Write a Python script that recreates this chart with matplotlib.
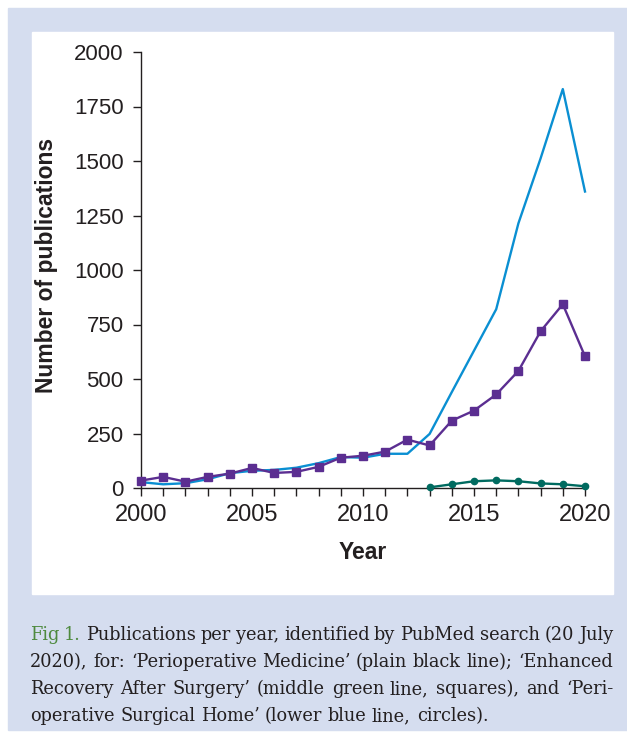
import numpy as np
import matplotlib.pyplot as plt
import matplotlib.patches as pat
from matplotlib.ticker import MultipleLocator

# valores
years = list(range(2000, 2021))
periop = [27, 17, 22, 40, 68, 79, 83, 93, 114, 142, 139, 157, 157, 248, 440, 630, 820, 1214, 1512, 1830, 1360]
eras = [34, 51, 29, 51, 66, 92, 69, 74, 97, 139, 148, 167, 222, 195, 309, 355, 429, 537, 719, 843, 604]
posh_years = list(range(2013, 2021))
posh = [3, 17, 31, 35, 31, 21, 17, 8]

caption = [
    "Fig 1. Publications per year, identified by PubMed search (20 July",
    "2020), for: \u2018Perioperative Medicine\u2019 (plain black line); \u2018Enhanced",
    "Recovery After Surgery\u2019 (middle green line, squares), and \u2018Peri-",
    "operative Surgical Home\u2019 (lower blue line, circles).",
]

W, H = 627, 738
BLUE_BG = "#d5ddef"


def fx(x):
    return x / W


def fy(y):
    return 1 - y / H


fig = plt.figure(figsize=(W / 100, H / 100), dpi=100)
fig.patch.set_facecolor("white")

# caja azul de fondo y panel blanco
fig.patches.append(pat.Rectangle((fx(8), fy(730)), fx(627) - fx(8), fy(8) - fy(730),
                                 transform=fig.transFigure, color=BLUE_BG, zorder=-10))
fig.patches.append(pat.Rectangle((fx(32), fy(594)), fx(613) - fx(32), fy(32) - fy(594),
                                 transform=fig.transFigure, color="white", zorder=-9))

ax = fig.add_axes([fx(141), fy(488), fx(585) - fx(141), fy(52) - fy(488)])
ax.set_facecolor("none")

ax.plot(years, periop, color="#0a8fd2", lw=1.7, clip_on=False, zorder=3)
ax.plot(years, eras, color="#5b2e91", lw=1.7, marker="s", ms=6, clip_on=False, zorder=4)
ax.plot(posh_years, posh, color="#006b60", lw=1.7, marker="o", ms=4.5, clip_on=False, zorder=5)

ax.set_xlim(2000, 2020)
ax.set_ylim(0, 2000)
ax.set_xticks(range(2000, 2021, 5))
ax.xaxis.set_minor_locator(MultipleLocator(1))
ax.set_yticks(range(0, 2001, 250))

ax.spines["top"].set_visible(False)
ax.spines["right"].set_visible(False)
for s in ["left", "bottom"]:
    ax.spines[s].set_linewidth(1.0)
    ax.spines[s].set_color("#231f20")

ax.tick_params(axis="x", which="both", direction="out", length=5.5, width=1.0, color="#231f20")
ax.tick_params(axis="y", which="both", direction="out", length=6, width=1.0, color="#231f20")
ax.tick_params(axis="x", labelsize=17, labelcolor="#231f20", pad=6)
ax.tick_params(axis="y", labelsize=16, labelcolor="#231f20", pad=6.5)
for lab in ax.get_xticklabels() + ax.get_yticklabels():
    lab.set_family("Liberation Sans")

ax.set_xlabel("Year", fontsize=16.5, fontweight="bold", family="Liberation Sans", color="#231f20")
ax.set_ylabel("Number of publications", fontsize=16.5, fontweight="bold", family="Liberation Sans", color="#231f20")
ax.xaxis.set_label_coords(0.5, (488 - 541) / 436)
ax.xaxis.label.set_va("top")
ax.yaxis.set_label_coords((58 - 141) / 444, 0.51)

# leyenda de la figura, justificada a mano palabra por palabra
renderer = fig.canvas.get_renderer()
left, right = 30, 613
baselines = [640, 667, 694, 721]
cap_font = dict(family="DejaVu Serif", fontsize=12.8, va="baseline", ha="left")
space_w = (fig.text(0, 0, "a a", alpha=0, **cap_font).get_window_extent(renderer).width
           - 2 * fig.text(0, 0, "a", alpha=0, **cap_font).get_window_extent(renderer).width)
fig.texts[-1].remove()
fig.texts[-1].remove()
for i, line in enumerate(caption):
    words = line.split(" ")
    texts = []
    for j, w in enumerate(words):
        col = "#4e8a3e" if (i == 0 and j < 2) else "#231f20"
        t = fig.text(0, fy(baselines[i]), w, color=col, **cap_font)
        texts.append(t)
    widths = [t.get_window_extent(renderer).width for t in texts]
    if i < len(caption) - 1:
        gap = (right - left - sum(widths)) / (len(words) - 1)
    else:
        gap = space_w
    x = left
    for t, wd in zip(texts, widths):
        t.set_x(round(x) / W)
        x += wd + gap

fig.savefig("out.png", dpi=100)
